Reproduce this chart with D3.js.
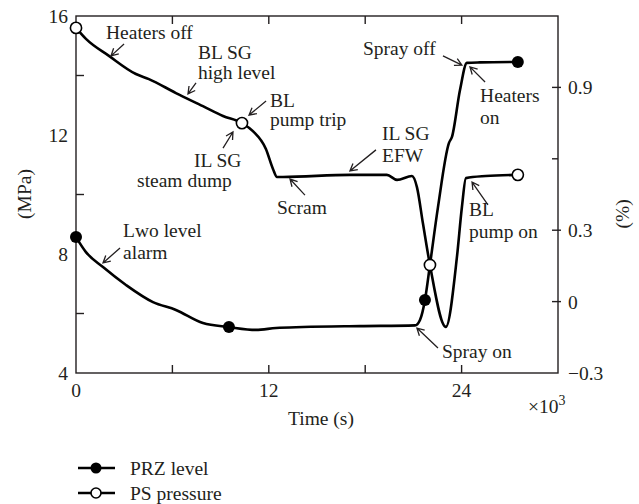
<!DOCTYPE html>
<html>
<head>
<meta charset="utf-8">
<script src="https://cdn.jsdelivr.net/npm/d3@7"></script>
<style>
  html, body { margin: 0; padding: 0; background: #fff; }
  svg text { font-family: "Liberation Serif", "Times New Roman", serif; fill: #231f20; }
</style>
</head>
<body>
<svg id="chart" width="639" height="504"></svg>
<script>
// ---- data (time in ×10^3 s) ----
const timeP    = [0, 0.62, 2.05, 3.73, 4.54, 6.22, 7.90, 9.15, 10.33, 11.01, 11.82, 12.26, 12.51, 12.88, 17.05, 19.35, 19.98, 20.91, 21.22, 21.59, 22.03, 23.02, 23.71, 24.02, 24.27, 25.5, 27.5];
const pressure = [15.6, 15.23, 14.66, 14.05, 13.88, 13.41, 12.97, 12.64, 12.40, 12.13, 11.53, 10.86, 10.59, 10.59, 10.66, 10.66, 10.49, 10.62, 10.25, 9.04, 7.63, 5.55, 7.90, 9.58, 10.55, 10.62, 10.66];
const timeL    = [0, 0.62, 1.68, 3.11, 4.79, 6.22, 7.90, 9.52, 11.20, 12.45, 14.13, 17.67, 21.10, 21.41, 21.72, 22.03, 22.53, 23.21, 23.40, 23.90, 24.33, 25.14, 27.5];
const level    = [0.271, 0.208, 0.145, 0.070, -0.002, -0.035, -0.090, -0.107, -0.119, -0.111, -0.107, -0.103, -0.100, -0.077, 0.007, 0.154, 0.397, 0.666, 0.692, 0.889, 1.003, 1.005, 1.007];
const markTimeP  = [0, 10.33, 22.03, 27.5];
const markPress  = [15.6, 12.40, 7.63, 10.66];
const markTimeL  = [0, 9.52, 21.72, 27.5];
const markLevel  = [0.271, -0.107, 0.007, 1.007];

const xTickVals = [0, 6, 12, 18, 24];
const xTickLabels = ["0", "", "12", "", "24"];
const yLeftTicks = [4, 6, 8, 10, 12, 14, 16];
const yLeftLabels = ["4", "", "8", "", "12", "", "16"];
const yRightTicks = [-0.3, 0, 0.3, 0.6, 0.9];
const yRightLabels = ["\u22120.3", "0", "0.3", "", "0.9"];

const seriesNames = ["PRZ level", "PS pressure"];

// annotations placed in data space (time, MPa); each entry = lines of one label
const annoTexts = [
  [["Heaters off", 1.87, 15.23]],
  [["BL SG", 7.59, 14.55], ["high level", 7.59, 13.88]],
  [["BL", 12.07, 12.95], ["pump trip", 12.07, 12.30]],
  [["IL SG", 7.34, 10.92], ["steam dump", 3.80, 10.25]],
  [["Scram", 12.51, 9.34]],
  [["IL SG", 19.05, 11.83], ["EFW", 19.05, 11.09]],
  [["Spray off", 17.86, 14.69]],
  [["Heaters", 25.15, 13.11], ["on", 25.15, 12.37]],
  [["BL", 24.46, 9.28], ["pump on", 24.46, 8.54]],
  [["Lwo level", 2.93, 8.57], ["alarm", 2.93, 7.83]],
  [["Spray on", 22.78, 4.50]]
];
// arrows: tail (t, MPa) -> tip (t, MPa)
const annoArrows = [
  [2.99, 15.06, 2.18, 14.66],
  [7.47, 13.75, 6.97, 13.38],
  [11.83, 13.14, 10.77, 12.67],
  [9.15, 11.56, 9.77, 12.10],
  [14.25, 9.98, 13.32, 10.52],
  [18.67, 11.50, 17.05, 10.79],
  [22.84, 14.66, 24.02, 14.35],
  [25.46, 13.78, 24.52, 14.29],
  [25.64, 9.65, 24.65, 10.42],
  [2.74, 8.20, 1.68, 7.70],
  [22.53, 4.84, 21.22, 5.51]
];

// ---- layout ----
const L = 76, R = 558, T = 16, B = 373;
const svg = d3.select("#chart");
const x = d3.scaleLinear().domain([0, 30]).range([L, R]);
const yL = d3.scaleLinear().domain([4, 16]).range([B, T]);
const yR = d3.scaleLinear().domain([-0.3, 1.2]).range([B, T]);
const ink = "#231f20";
const fs = 19.5;

// frame
svg.append("rect").attr("x", L).attr("y", T).attr("width", R - L).attr("height", B - T)
  .attr("fill", "none").attr("stroke", ink).attr("stroke-width", 1.4);

// x ticks (bottom & top, inward)
xTickVals.forEach((v, i) => {
  if (v > 0) {
    svg.append("line").attr("x1", x(v)).attr("x2", x(v)).attr("y1", B).attr("y2", B - 8).attr("stroke", ink).attr("stroke-width", 1.4);
    svg.append("line").attr("x1", x(v)).attr("x2", x(v)).attr("y1", T).attr("y2", T + 8).attr("stroke", ink).attr("stroke-width", 1.4);
  }
  if (xTickLabels[i]) svg.append("text").attr("x", x(v)).attr("y", B + 24).attr("text-anchor", "middle")
    .attr("font-size", fs).text(xTickLabels[i]);
});
// left ticks
yLeftTicks.forEach((v, i) => {
  if (!yLeftLabels[i]) svg.append("line").attr("x1", L).attr("x2", L + 8).attr("y1", yL(v)).attr("y2", yL(v)).attr("stroke", ink).attr("stroke-width", 1.4);
  if (yLeftLabels[i]) svg.append("text").attr("x", L - 8).attr("y", yL(v) + 7).attr("text-anchor", "end")
    .attr("font-size", fs).text(yLeftLabels[i]);
});
// right ticks
yRightTicks.forEach((v, i) => {
  if (v > -0.3) svg.append("line").attr("x1", R - 6).attr("x2", R + (yRightLabels[i] ? 3 : 0)).attr("y1", yR(v)).attr("y2", yR(v)).attr("stroke", ink).attr("stroke-width", 1.4);
  if (yRightLabels[i]) svg.append("text").attr("x", R + 10).attr("y", yR(v) + 7).attr("text-anchor", "start")
    .attr("font-size", fs).text(yRightLabels[i]);
});

// axis titles
svg.append("text").attr("transform", `translate(31,194) rotate(-90)`).attr("text-anchor", "middle").attr("font-size", fs).text("(MPa)");
svg.append("text").attr("transform", `translate(629,214) rotate(-90)`).attr("text-anchor", "middle").attr("font-size", fs).text("(%)");
svg.append("text").attr("x", (L + R) / 2 + 4).attr("y", 425).attr("text-anchor", "middle").attr("font-size", fs).text("Time (s)");
const sc = svg.append("text").attr("x", 528).attr("y", 413).attr("font-size", fs);
sc.append("tspan").text("\u00d710");
sc.append("tspan").attr("dy", -8).attr("font-size", 14).text("3");

// curves
const lineP = d3.line().x((d) => x(d[0])).y((d) => yL(d[1])).curve(d3.curveMonotoneX);
const lineL = d3.line().x((d) => x(d[0])).y((d) => yR(d[1])).curve(d3.curveMonotoneX);
svg.append("path").datum(timeL.map((t, i) => [t, level[i]])).attr("d", lineL)
  .attr("fill", "none").attr("stroke", "#000").attr("stroke-width", 2.6).attr("stroke-linejoin", "round");
svg.append("path").datum(timeP.map((t, i) => [t, pressure[i]])).attr("d", lineP)
  .attr("fill", "none").attr("stroke", "#000").attr("stroke-width", 2.6).attr("stroke-linejoin", "round");

// markers
markTimeL.forEach((t, i) => svg.append("circle").attr("cx", x(t)).attr("cy", yR(markLevel[i])).attr("r", 6).attr("fill", "#000"));
markTimeP.forEach((t, i) => svg.append("circle").attr("cx", x(t)).attr("cy", yL(markPress[i])).attr("r", 5.6)
  .attr("fill", "#fff").attr("stroke", "#000").attr("stroke-width", 1.6));

// annotations (multi-line labels as one text element with tspans)
annoTexts.forEach((lines) => {
  const tx = svg.append("text").attr("font-size", fs);
  lines.forEach(([s, t, v]) => tx.append("tspan").attr("x", x(t)).attr("y", yL(v)).text(s));
});
annoArrows.forEach(([t0, v0, t1, v1]) => {
  const x0 = x(t0), y0 = yL(v0), x1 = x(t1), y1 = yL(v1);
  const a = Math.atan2(y1 - y0, x1 - x0), h = 8, w = 0.5;
  const p = `M${x0},${y0}L${x1},${y1}` +
    `M${x1 - h * Math.cos(a - w)},${y1 - h * Math.sin(a - w)}L${x1},${y1}L${x1 - h * Math.cos(a + w)},${y1 - h * Math.sin(a + w)}`;
  svg.append("path").attr("d", p).attr("fill", "none").attr("stroke", ink).attr("stroke-width", 1.3);
});

// legend
const legY = [468, 493];
seriesNames.forEach((n, i) => {
  svg.append("line").attr("x1", 78).attr("x2", 115).attr("y1", legY[i]).attr("y2", legY[i]).attr("stroke", "#000").attr("stroke-width", 2.4);
  if (i === 0) svg.append("circle").attr("cx", 96).attr("cy", legY[i]).attr("r", 5.5).attr("fill", "#000");
  else svg.append("circle").attr("cx", 96).attr("cy", legY[i]).attr("r", 5).attr("fill", "#fff").attr("stroke", "#000").attr("stroke-width", 1.6);
  svg.append("text").attr("x", 130).attr("y", legY[i] + 7).attr("font-size", fs).text(n);
});
</script>
</body>
</html>
